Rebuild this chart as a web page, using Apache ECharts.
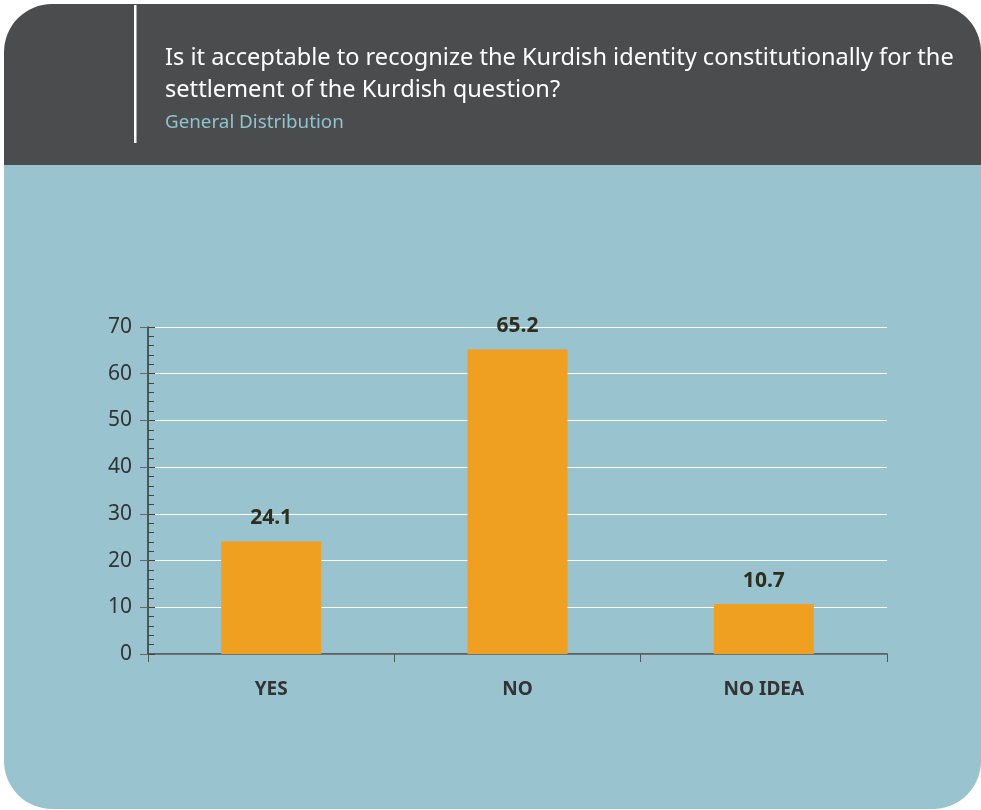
<!DOCTYPE html>
<html><head><meta charset="utf-8">
<script src="https://cdn.jsdelivr.net/npm/echarts@6/dist/echarts.min.js"></script>
<style>html,body{margin:0;padding:0;background:#fff;}#c{width:981px;height:810px;}</style>
</head><body><div id="c"></div>
<script>
const categories = ['YES', 'NO', 'NO IDEA'];
const values = [24.1, 65.2, 10.7];
const yTicks = [0, 10, 20, 30, 40, 50, 60, 70];
const titleLines = ['Is it acceptable to recognize the Kurdish identity constitutionally for the', 'settlement of the Kurdish question?'];
const subtitle = 'General Distribution';

const FONT = '"Noto Sans", sans-serif';
const chart = echarts.init(document.getElementById('c'), null, {renderer: 'canvas'});
chart.setOption({
  backgroundColor: '#ffffff',
  animation: false,
  graphic: [
    {type: 'rect', z: -10, shape: {x: 4, y: 4, width: 977, height: 162, r: [48, 48, 0, 0]}, style: {fill: '#4b4c4e'}},
    {type: 'rect', z: -10, shape: {x: 4, y: 165, width: 977, height: 644, r: [0, 0, 48, 48]}, style: {fill: '#98c3cf'}},
    {type: 'rect', z: -5, shape: {x: 134, y: 5, width: 2.5, height: 138}, style: {fill: '#ffffff'}},
    {type: 'text', left: 165, top: 42, style: {text: titleLines.join('\n'), fill: '#ffffff', font: '23.6px ' + FONT, lineHeight: 32}},
    {type: 'text', left: 165, top: 113, style: {text: subtitle, fill: '#8fc3cf', font: '18.8px ' + FONT}}
  ],
  grid: {left: 148, right: 94, top: 327, bottom: 156},
  xAxis: {
    type: 'category', data: categories,
    axisLine: {lineStyle: {color: '#444', width: 1.5}},
    axisTick: {show: true, length: 8, lineStyle: {color: '#555'}},
    axisLabel: {color: '#333', fontWeight: 'bold', fontSize: 19, fontFamily: FONT, margin: 26}
  },
  yAxis: [
    {
      type: 'value', min: 0, max: 70, interval: 10,
      axisLine: {show: true, lineStyle: {color: '#333', width: 1.5}},
      axisTick: {show: true, length: 8, lineStyle: {color: '#666'}},
      axisLabel: {color: '#333', fontSize: 21, fontFamily: FONT, margin: 16,
        formatter: v => yTicks.includes(v) ? String(v) : ''},
      splitLine: {show: true, lineStyle: {color: '#ffffff', width: 1.2}}
    },
    {
      type: 'value', min: 0, max: 70, interval: 10, position: 'left',
      axisLine: {show: false},
      axisTick: {show: true, inside: true, length: 7, lineStyle: {color: '#444'}},
      minorTick: {show: true, splitNumber: 5, length: 6, lineStyle: {color: '#444'}},
      axisLabel: {show: false},
      splitLine: {show: false}
    }
  ],
  series: [{
    type: 'bar', data: values, barWidth: 100,
    itemStyle: {color: '#f0a020'},
    label: {show: true, position: 'top', distance: 13, color: '#2e2e1c', fontWeight: 'bold', fontSize: 21, fontFamily: FONT,
      formatter: p => p.value.toFixed(1)}
  }]
});
</script></body></html>
